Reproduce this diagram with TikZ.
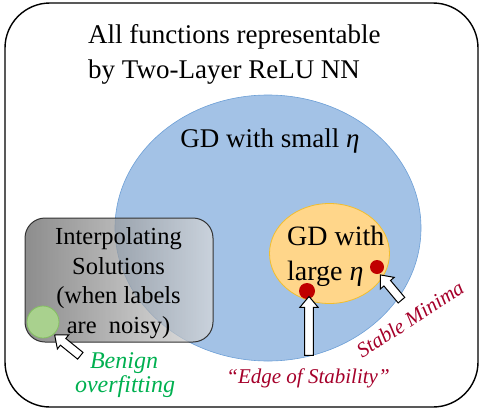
\documentclass[tikz,border=0pt]{standalone}
\usepackage{fontspec}
\setmainfont{Liberation Serif}
\usetikzlibrary{arrows.meta,positioning,shapes.geometric,shapes.arrows}
\definecolor{setblue}{HTML}{A3C2E6}
\definecolor{setblueline}{HTML}{6C9FD6}
\definecolor{setorange}{HTML}{FFD68A}
\definecolor{setorangeline}{HTML}{F2BE2E}
\definecolor{benigngreen}{HTML}{00B050}
\definecolor{dotgreen}{HTML}{A9D18E}
\definecolor{dotgreenline}{HTML}{84C060}
\definecolor{minred}{HTML}{C00000}
\definecolor{labelred}{HTML}{A5002A}
\tikzset{
  hollowarrow/.style={single arrow, draw=black, fill=white, line width=1pt,
    inner sep=3.8pt, single arrow head extend=4.8pt, single arrow tip angle=80,
    anchor=center},
  txt/.style={inner sep=0pt, anchor=base}
}
\begin{document}
\begin{tikzpicture}[x=1pt,y=-1pt,>=Stealth]
\useasboundingbox (0,0) rectangle (482,410);
% outer set
\draw[line width=1.4pt, rounded corners=45pt] (5,3) rectangle (478,407);
\node[txt, anchor=base west, font=\fontsize{27}{32}\selectfont] (allfun) at (88,43) {All functions representable};
\node[txt, anchor=base west, font=\fontsize{27}{32}\selectfont] (twolayer) at (88,78) {by Two-Layer ReLU NN};
% small step size
\fill[setblue] (268,228) ellipse [x radius=153pt, y radius=133pt];
\draw[setblueline, line width=0.6pt] (268,228) ellipse [x radius=153pt, y radius=133pt];
\node[txt, font=\fontsize{27}{32}\selectfont] (small) at (270,147) {GD with small {\itshape η}};
% interpolating solutions
\shade[left color=black!62, right color=white!85!black, fill opacity=0.72, rounded corners=20pt]
  (25,218) rectangle (213,342);
\draw[black!80, line width=1pt, rounded corners=20pt] (25,218) rectangle (213,342);
\foreach \t/\y [count=\i] in {{Interpolating}/244, {Solutions}/274, {(when labels}/303.5, {are~~noisy)}/333}
  \node[txt, font=\fontsize{24.5}{29}\selectfont] (interp\i) at (118.5,\y) {\t};
\filldraw[fill=dotgreen, draw=dotgreenline, line width=0.8pt] (43,322) circle (16pt);
% large step size
\filldraw[fill=setorange, draw=setorangeline, line width=0.8pt] (329.5,253.5) ellipse [x radius=60pt, y radius=50pt];
\node[txt, anchor=base west, font=\fontsize{28}{32}\selectfont] (large1) at (287,245) {GD with};
\node[txt, anchor=base west, font=\fontsize{28}{32}\selectfont] (large2) at (287,280) {large {\itshape η}};
\fill[minred] (307,291) circle (8pt);
\fill[minred] (377,267) circle (7pt);
% pointers
\node[hollowarrow, minimum height=33pt, rotate=141] (benignarrow) at (69.5,347) {};
\node[hollowarrow, minimum height=59pt, rotate=90] (edgearrow) at (309,328.5) {};
\node[hollowarrow, minimum height=33pt, rotate=130] (stablearrow) at (392.5,289.5) {};
% labels
\node[txt, font=\fontsize{24}{28}\selectfont\itshape, text=benigngreen] (benign1) at (124,368) {Benign};
\node[txt, font=\fontsize{24}{28}\selectfont\itshape, text=benigngreen] (benign2) at (125,392) {overfitting};
\node[txt, font=\fontsize{21}{24}\selectfont\itshape, text=labelred] (edge) at (308,383) {“Edge of Stability”};
\node[font=\fontsize{21}{24}\selectfont\itshape, text=labelred, rotate=33, inner sep=0pt] (stable) at (410,319) {Stable Minima};
\end{tikzpicture}
\end{document}
